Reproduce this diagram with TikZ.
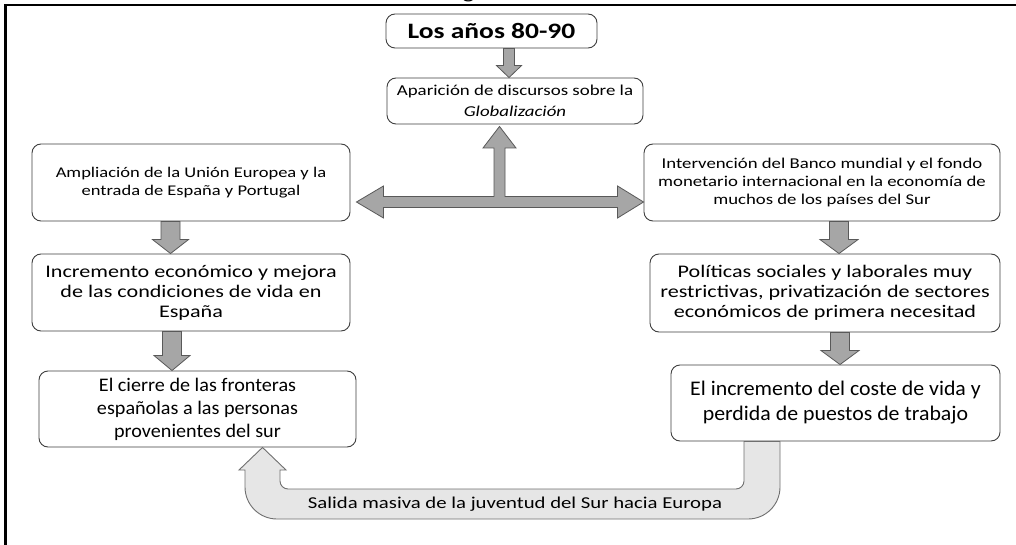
\documentclass[tikz,border=0pt]{standalone}
\usepackage{fontspec}
\setmainfont{Carlito}
\newfontfamily\wfont{Carlito}[FakeStretch=1.25]
\newfontfamily\nfont{Carlito}[FakeStretch=1.05]
\usetikzlibrary{calc}
\definecolor{boxline}{HTML}{3F3F3F}
\definecolor{arrfill}{HTML}{A6A6A6}
\definecolor{arrline}{HTML}{595959}
\definecolor{ufill}{HTML}{E6E6E6}
\definecolor{uline}{HTML}{6F6F6F}
\tikzset{
  box/.style={draw=boxline, line width=0.9pt, rounded corners=9pt, fill=white, align=center, inner sep=0pt},
  blk/.style={fill=arrfill, draw=arrline, line width=0.8pt, line join=miter},
  ublk/.style={fill=ufill, draw=uline, line width=0.9pt},
  frameline/.style={line width=2.2pt, black, line join=miter}
}
\newcommand{\blockdn}[6]{%
  \filldraw[blk] let \p1=(#2.south), \p2=(#3.north) in
  (#1pt-#4pt,\y1) -- (#1pt+#4pt,\y1) -- (#1pt+#4pt,\y2+#6pt) -- (#1pt+#5pt,\y2+#6pt)
  -- (#1pt,\y2) -- (#1pt-#5pt,\y2+#6pt) -- (#1pt-#4pt,\y2+#6pt) -- cycle;}
\begin{document}
\begin{tikzpicture}[x=1pt,y=1pt]
\useasboundingbox (0,0) rectangle (1016,-545);
\fill[white] (0,0) rectangle (1016,-545);
% frame
\draw[frameline] (5.5,-545) -- (5.5,-4.8) -- (1016,-4.8);
\node[font=\wfont\fontsize{20}{24}\selectfont, anchor=base, inner sep=0pt] (gtail) at (468.5,1) {g};
% boxes
\node[box, minimum width=211pt, minimum height=34pt, font=\wfont\bfseries\fontsize{22}{26}\selectfont] (los) at (491.5,-31) {Los años 80-90};
\node[box, minimum width=256pt, minimum height=46pt, font=\wfont\fontsize{15.1}{21}\selectfont] (apar) at (515,-101) {Aparición de discursos sobre la\\\textit{Globalización}};
\node[box, minimum width=318pt, minimum height=77pt, font=\wfont\fontsize{14.8}{18}\selectfont] (ampl) at (191,-182.5) {Ampliación de la Unión Europea y la\\entrada de España y Portugal};
\node[box, minimum width=356pt, minimum height=77pt, font=\wfont\fontsize{15}{18}\selectfont] (inter) at (822,-182.5) {Intervención del Banco mundial y el fondo\\monetario internacional en la economía de\\muchos de los países del Sur};
\node[box, minimum width=318pt, minimum height=77pt, font=\wfont\fontsize{17.7}{20}\selectfont] (incr) at (191,-292.5) {Incremento económico y mejora\\de las condiciones de vida en\\España};
\node[box, minimum width=350pt, minimum height=78pt, font=\wfont\fontsize{17.7}{20}\selectfont] (pol) at (825,-293) {Políticas sociales y laborales muy\\restrictivas, privatización de sectores\\económicos de primera necesitad};
\node[box, minimum width=317pt, minimum height=76pt, font=\nfont\fontsize{19.2}{23}\selectfont] (cierre) at (197.5,-409) {El cierre de las fronteras\\españolas a las personas\\provenientes del sur};
\node[box, minimum width=329pt, minimum height=76pt, font=\nfont\fontsize{20.8}{25}\selectfont] (coste) at (835.5,-403) {El incremento del coste de vida y\\perdida de puestos de trabajo};
% down arrows
\blockdn{509}{los}{apar}{5.5}{12.5}{12}
\blockdn{170.5}{ampl}{incr}{9.5}{18}{14}
\blockdn{172}{incr}{cierre}{9.5}{18}{15}
\blockdn{839}{inter}{pol}{9.5}{19}{14}
\blockdn{840}{pol}{coste}{9.5}{19}{14}
% T arrow
\filldraw[blk] let \p1=(ampl.east), \p2=(inter.west), \p3=(apar.south) in
  (\x1+6pt,-202) -- (\x1+33pt,-186) -- (\x1+33pt,-196.5) -- (494,-196.5) -- (494,-148)
  -- (483,-148) -- (499.5,\y3-2pt) -- (516,-148) -- (505,-148) -- (505,-196.5)
  -- (\x2-26pt,-196.5) -- (\x2-26pt,-186) -- (\x2,-202) -- (\x2-26pt,-218)
  -- (\x2-26pt,-207.5) -- (\x1+33pt,-207.5) -- (\x1+33pt,-218) -- cycle;
% U arrow
\filldraw[ublk] let \p1=(coste.south), \p2=(cierre.south) in
  (744,\y1) -- (780,\y1) -- (780,-487) .. controls (780,-504.7) and (765.7,-519) .. (748,-519)
  -- (277,-519) .. controls (259.3,-519) and (245,-504.7) .. (245,-487)
  -- (245,-470) -- (239,-470) -- (262.5,\y2) -- (286,-470) -- (280,-470)
  -- (280,-481) .. controls (280,-485.4) and (283.6,-489) .. (288,-489)
  -- (736,-489) .. controls (740.4,-489) and (744,-485.4) .. (744,-481) -- cycle;
\node[font=\wfont\fontsize{16.6}{20}\selectfont, inner sep=0pt] (salida) at (515,-504) {Salida masiva de la juventud del Sur hacia Europa};
\end{tikzpicture}
\end{document}
